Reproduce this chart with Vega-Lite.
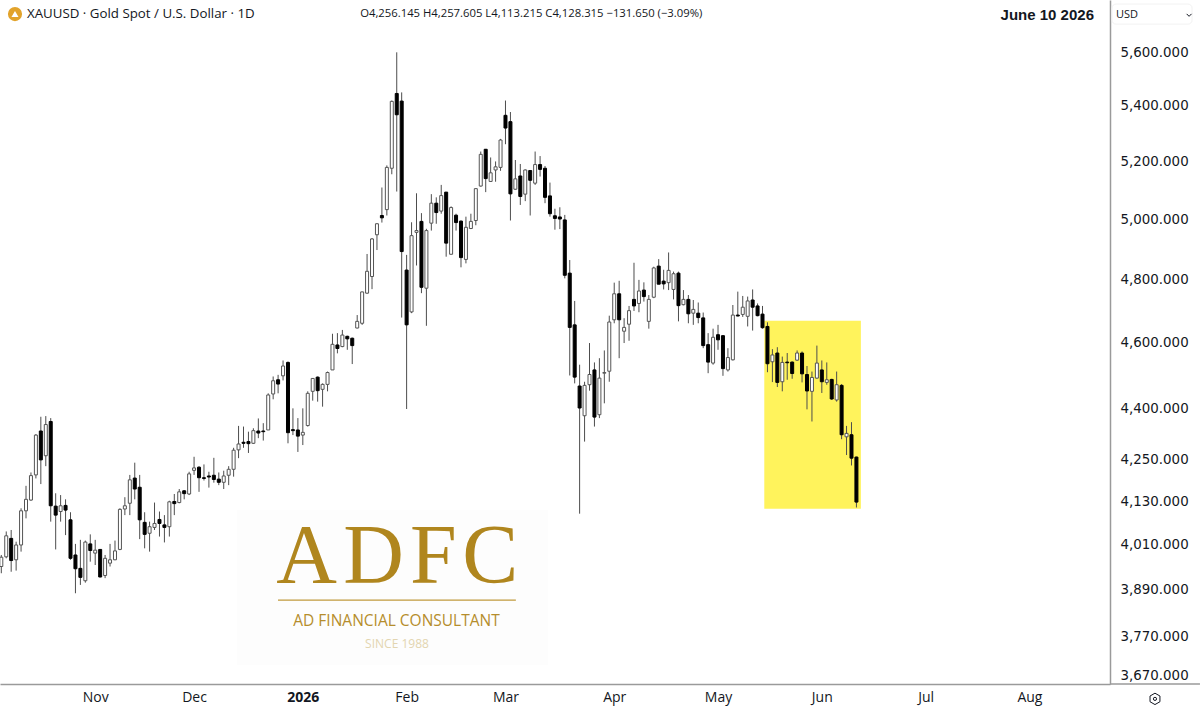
{
"$schema":"https://vega.github.io/schema/vega-lite/v6.json",
"autosize":{"type":"none"},
"padding":{"left":0,"top":0,"right":90,"bottom":29},
"width":1110,"height":684,
"background":"#ffffff",
"view":{"stroke":null},
"datasets":{"candles":[
{"bar":0,"open":3952,"high":3983,"low":3934,"close":3977},
{"bar":1,"open":3978,"high":4047,"low":3974,"close":4035},
{"bar":2,"open":4028,"high":4051,"low":3938,"close":3968},
{"bar":3,"open":3970,"high":4019,"low":3941,"close":4010},
{"bar":4,"open":4010,"high":4111,"low":3992,"close":4104},
{"bar":5,"open":4104,"high":4174,"low":4083,"close":4136},
{"bar":6,"open":4134,"high":4212,"low":4132,"close":4203},
{"bar":7,"open":4205,"high":4323,"low":4195,"close":4320},
{"bar":8,"open":4332,"high":4374,"low":4179,"close":4248},
{"bar":9,"open":4260,"high":4376,"low":4230,"close":4351},
{"bar":10,"open":4360,"high":4370,"low":4074,"close":4118},
{"bar":11,"open":4117,"high":4153,"low":3998,"close":4092},
{"bar":12,"open":4102,"high":4148,"low":4074,"close":4118},
{"bar":13,"open":4119,"high":4136,"low":4037,"close":4106},
{"bar":14,"open":4079,"high":4100,"low":3970,"close":3974},
{"bar":15,"open":3983,"high":4013,"low":3881,"close":3946},
{"bar":16,"open":3947,"high":4024,"low":3903,"close":3923},
{"bar":17,"open":3914,"high":4022,"low":3909,"close":4018},
{"bar":18,"open":4013,"high":4039,"low":3965,"close":3995},
{"bar":19,"open":3988,"high":4024,"low":3956,"close":3996},
{"bar":20,"open":3998,"high":3998,"low":3923,"close":3924},
{"bar":21,"open":3928,"high":3983,"low":3921,"close":3974},
{"bar":22,"open":3961,"high":4013,"low":3952,"close":3970},
{"bar":23,"open":3970,"high":4022,"low":3969,"close":3994},
{"bar":24,"open":3998,"high":4111,"low":3996,"close":4108},
{"bar":25,"open":4109,"high":4142,"low":4092,"close":4118},
{"bar":26,"open":4125,"high":4205,"low":4092,"close":4191},
{"bar":27,"open":4196,"high":4240,"low":4136,"close":4165},
{"bar":28,"open":4170,"high":4205,"low":4026,"close":4079},
{"bar":29,"open":4072,"high":4100,"low":4001,"close":4039},
{"bar":30,"open":4042,"high":4074,"low":3992,"close":4060},
{"bar":31,"open":4058,"high":4127,"low":4051,"close":4069},
{"bar":32,"open":4080,"high":4102,"low":4033,"close":4069},
{"bar":33,"open":4065,"high":4092,"low":4017,"close":4058},
{"bar":34,"open":4060,"high":4132,"low":4033,"close":4129},
{"bar":35,"open":4130,"high":4151,"low":4092,"close":4124},
{"bar":36,"open":4127,"high":4165,"low":4125,"close":4157},
{"bar":37,"open":4160,"high":4162,"low":4136,"close":4152},
{"bar":38,"open":4151,"high":4214,"low":4148,"close":4208},
{"bar":39,"open":4218,"high":4257,"low":4205,"close":4225},
{"bar":40,"open":4227,"high":4230,"low":4157,"close":4197},
{"bar":41,"open":4197,"high":4235,"low":4189,"close":4195},
{"bar":42,"open":4202,"high":4214,"low":4169,"close":4199},
{"bar":43,"open":4204,"high":4254,"low":4183,"close":4192},
{"bar":44,"open":4193,"high":4212,"low":4176,"close":4184},
{"bar":45,"open":4184,"high":4217,"low":4165,"close":4202},
{"bar":46,"open":4204,"high":4230,"low":4176,"close":4221},
{"bar":47,"open":4221,"high":4283,"low":4200,"close":4276},
{"bar":48,"open":4277,"high":4347,"low":4253,"close":4294},
{"bar":49,"open":4299,"high":4345,"low":4283,"close":4296},
{"bar":50,"open":4301,"high":4330,"low":4268,"close":4295},
{"bar":51,"open":4296,"high":4340,"low":4294,"close":4333},
{"bar":52,"open":4332,"high":4369,"low":4311,"close":4326},
{"bar":53,"open":4332,"high":4355,"low":4304,"close":4330},
{"bar":54,"open":4335,"high":4444,"low":4335,"close":4439},
{"bar":55,"open":4442,"high":4495,"low":4426,"close":4482},
{"bar":56,"open":4485,"high":4500,"low":4444,"close":4472},
{"bar":57,"open":4497,"high":4544,"low":4483,"close":4527},
{"bar":58,"open":4538,"high":4541,"low":4296,"close":4327},
{"bar":59,"open":4336,"high":4399,"low":4320,"close":4333},
{"bar":60,"open":4335,"high":4370,"low":4271,"close":4317},
{"bar":61,"open":4320,"high":4399,"low":4291,"close":4328},
{"bar":62,"open":4348,"high":4450,"low":4345,"close":4444},
{"bar":63,"open":4450,"high":4490,"low":4422,"close":4489},
{"bar":64,"open":4493,"high":4495,"low":4419,"close":4452},
{"bar":65,"open":4456,"high":4474,"low":4404,"close":4471},
{"bar":66,"open":4471,"high":4510,"low":4450,"close":4507},
{"bar":67,"open":4515,"high":4627,"low":4515,"close":4594},
{"bar":68,"open":4592,"high":4629,"low":4566,"close":4581},
{"bar":69,"open":4587,"high":4639,"low":4585,"close":4623},
{"bar":70,"open":4619,"high":4621,"low":4577,"close":4611},
{"bar":71,"open":4613,"high":4615,"low":4533,"close":4590},
{"bar":72,"open":4645,"high":4686,"low":4644,"close":4666},
{"bar":73,"open":4660,"high":4761,"low":4655,"close":4760},
{"bar":74,"open":4756,"high":4884,"low":4754,"close":4827},
{"bar":75,"open":4810,"high":4937,"low":4769,"close":4934},
{"bar":76,"open":4948,"high":4987,"low":4897,"close":4985},
{"bar":77,"open":5013,"high":5109,"low":4989,"close":5005},
{"bar":78,"open":5033,"high":5186,"low":5013,"close":5179},
{"bar":79,"open":5176,"high":5419,"low":5155,"close":5416},
{"bar":80,"open":5445,"high":5599,"low":5095,"close":5367},
{"bar":81,"open":5417,"high":5449,"low":4678,"close":4892},
{"bar":82,"open":4831,"high":4881,"low":4397,"close":4655},
{"bar":83,"open":4696,"high":4990,"low":4692,"close":4945},
{"bar":84,"open":4956,"high":5089,"low":4846,"close":4962},
{"bar":85,"open":4993,"high":5021,"low":4756,"close":4775},
{"bar":86,"open":4772,"high":4968,"low":4652,"close":4962},
{"bar":87,"open":4987,"high":5086,"low":4962,"close":5055},
{"bar":88,"open":5055,"high":5075,"low":4985,"close":5023},
{"bar":89,"open":5028,"high":5118,"low":5019,"close":5081},
{"bar":90,"open":5093,"high":5093,"low":4875,"close":4920},
{"bar":91,"open":4883,"high":5044,"low":4883,"close":5040},
{"bar":92,"open":5014,"high":5019,"low":4962,"close":4989},
{"bar":93,"open":4994,"high":4996,"low":4840,"close":4872},
{"bar":94,"open":4866,"high":5009,"low":4853,"close":4973},
{"bar":95,"open":4969,"high":5019,"low":4967,"close":4993},
{"bar":96,"open":4996,"high":5106,"low":4980,"close":5105},
{"bar":97,"open":5114,"high":5235,"low":5112,"close":5225},
{"bar":98,"open":5243,"high":5244,"low":5093,"close":5140},
{"bar":99,"open":5130,"high":5214,"low":5129,"close":5160},
{"bar":100,"open":5170,"high":5200,"low":5129,"close":5181},
{"bar":101,"open":5179,"high":5280,"low":5167,"close":5276},
{"bar":102,"open":5365,"high":5419,"low":5261,"close":5319},
{"bar":103,"open":5342,"high":5377,"low":4996,"close":5087},
{"bar":104,"open":5103,"high":5205,"low":5101,"close":5139},
{"bar":105,"open":5149,"high":5191,"low":5049,"close":5078},
{"bar":106,"open":5086,"high":5172,"low":5062,"close":5170},
{"bar":107,"open":5168,"high":5170,"low":5013,"close":5134},
{"bar":108,"open":5124,"high":5235,"low":5118,"close":5189},
{"bar":109,"open":5189,"high":5219,"low":5147,"close":5172},
{"bar":110,"open":5176,"high":5184,"low":5055,"close":5075},
{"bar":111,"open":5080,"high":5126,"low":5009,"close":5019},
{"bar":112,"open":5012,"high":5036,"low":4965,"close":5003},
{"bar":113,"open":5008,"high":5041,"low":4967,"close":5001},
{"bar":114,"open":4998,"high":5015,"low":4804,"close":4814},
{"bar":115,"open":4821,"high":4864,"low":4498,"close":4647},
{"bar":116,"open":4655,"high":4731,"low":4474,"close":4493},
{"bar":117,"open":4466,"high":4531,"low":4096,"close":4400},
{"bar":118,"open":4377,"high":4479,"low":4301,"close":4468},
{"bar":119,"open":4470,"high":4598,"low":4452,"close":4501},
{"bar":120,"open":4515,"high":4538,"low":4345,"close":4373},
{"bar":121,"open":4380,"high":4551,"low":4370,"close":4490},
{"bar":122,"open":4505,"high":4575,"low":4414,"close":4507},
{"bar":123,"open":4511,"high":4684,"low":4479,"close":4664},
{"bar":124,"open":4671,"high":4790,"low":4660,"close":4754},
{"bar":125,"open":4754,"high":4796,"low":4551,"close":4671},
{"bar":126,"open":4635,"high":4676,"low":4598,"close":4647},
{"bar":127,"open":4657,"high":4715,"low":4605,"close":4700},
{"bar":128,"open":4736,"high":4855,"low":4699,"close":4715},
{"bar":129,"open":4723,"high":4799,"low":4695,"close":4763},
{"bar":130,"open":4766,"high":4791,"low":4729,"close":4745},
{"bar":131,"open":4666,"high":4750,"low":4643,"close":4736},
{"bar":132,"open":4743,"high":4842,"low":4740,"close":4838},
{"bar":133,"open":4844,"high":4867,"low":4785,"close":4785},
{"bar":134,"open":4795,"high":4832,"low":4768,"close":4786},
{"bar":135,"open":4790,"high":4889,"low":4766,"close":4830},
{"bar":136,"open":4768,"high":4826,"low":4736,"close":4819},
{"bar":137,"open":4821,"high":4826,"low":4666,"close":4716},
{"bar":138,"open":4719,"high":4766,"low":4717,"close":4736},
{"bar":139,"open":4736,"high":4750,"low":4660,"close":4690},
{"bar":140,"open":4692,"high":4734,"low":4655,"close":4704},
{"bar":141,"open":4692,"high":4726,"low":4660,"close":4678},
{"bar":142,"open":4677,"high":4694,"low":4582,"close":4590},
{"bar":143,"open":4593,"high":4629,"low":4505,"close":4539},
{"bar":144,"open":4536,"high":4643,"low":4531,"close":4616},
{"bar":145,"open":4624,"high":4655,"low":4577,"close":4608},
{"bar":146,"open":4621,"high":4623,"low":4497,"close":4519},
{"bar":147,"open":4515,"high":4582,"low":4510,"close":4553},
{"bar":148,"open":4546,"high":4718,"low":4544,"close":4686},
{"bar":149,"open":4686,"high":4761,"low":4682,"close":4683},
{"bar":150,"open":4688,"high":4747,"low":4680,"close":4711},
{"bar":151,"open":4682,"high":4745,"low":4650,"close":4731},
{"bar":152,"open":4734,"high":4768,"low":4637,"close":4711},
{"bar":153,"open":4715,"high":4723,"low":4682,"close":4684},
{"bar":154,"open":4689,"high":4715,"low":4643,"close":4646},
{"bar":155,"open":4650,"high":4663,"low":4508,"close":4534},
{"bar":156,"open":4540,"high":4579,"low":4478,"close":4561},
{"bar":157,"open":4567,"high":4585,"low":4463,"close":4477},
{"bar":158,"open":4479,"high":4556,"low":4450,"close":4538},
{"bar":159,"open":4539,"high":4567,"low":4485,"close":4537},
{"bar":160,"open":4539,"high":4541,"low":4488,"close":4504},
{"bar":161,"open":4545,"high":4575,"low":4543,"close":4567},
{"bar":162,"open":4567,"high":4572,"low":4477,"close":4503},
{"bar":163,"open":4501,"high":4527,"low":4396,"close":4451},
{"bar":164,"open":4450,"high":4510,"low":4360,"close":4492},
{"bar":165,"open":4490,"high":4590,"low":4488,"close":4536},
{"bar":166,"open":4515,"high":4544,"low":4445,"close":4479},
{"bar":167,"open":4477,"high":4538,"low":4470,"close":4485},
{"bar":168,"open":4486,"high":4488,"low":4424,"close":4427},
{"bar":169,"open":4424,"high":4510,"low":4419,"close":4470},
{"bar":170,"open":4468,"high":4472,"low":4308,"close":4321},
{"bar":171,"open":4315,"high":4347,"low":4262,"close":4325},
{"bar":172,"open":4321,"high":4358,"low":4232,"close":4253},
{"bar":173,"open":4256.145,"high":4257.605,"low":4113.215,"close":4128.315}
]},
"layer":[
{"data":{"values":[{"bar":47.7,"bar2":110.6,"price":4106,"price2":3697}]},
 "mark":{"type":"rect","fill":"#fdfdfd"},
 "encoding":{
  "x":{"field":"bar","type":"quantitative","scale":{"domain":[-0.263,224.3],"nice":false,"zero":false,"padding":0},
   "axis":{"title":null,"orient":"bottom","grid":false,"ticks":false,"domain":true,"domainColor":"#9a9a9a","domainWidth":1.5,
    "values":[19,39,61,82,102,124,145,166,187,208],
    "labelExpr":"{19:'Nov',39:'Dec',61:'2026',82:'Feb',102:'Mar',124:'Apr',145:'May',166:'Jun',187:'Jul',208:'Aug'}[datum.value]",
    "labelFont":"Open Sans","labelFontSize":14,"labelColor":"#131722","labelPadding":6,"labelOverlap":false,"labelFlush":false,
    "labelFontWeight":{"condition":{"test":"datum.value==61","value":"bold"},"value":"normal"}}},
  "x2":{"field":"bar2"},
  "y":{"field":"price","type":"quantitative","scale":{"type":"log","domain":[3649.6,5801],"nice":false,"padding":0},
   "axis":{"title":null,"orient":"right","grid":false,"ticks":false,"domain":true,"domainColor":"#9a9a9a","domainWidth":1.5,
    "values":[3670,3770,3890,4010,4130,4250,4400,4600,4800,5000,5200,5400,5600],"format":",.3f",
    "labelFont":"DejaVu Sans","labelFontSize":13.4,"labelColor":"#131722","labelPadding":10,"labelOverlap":false,"labelBound":false,"labelFlush":false}},
  "y2":{"field":"price2"}}},
{"data":{"values":[{"bar":154.36,"bar2":173.9,"price":4668,"price2":4110}]},
 "mark":{"type":"rect","fill":"#fff35c"},
 "encoding":{"x":{"field":"bar","type":"quantitative"},"x2":{"field":"bar2"},"y":{"field":"price","type":"quantitative"},"y2":{"field":"price2"}}},
{"data":{"name":"candles"},
 "mark":{"type":"rule","color":"#4d4d4d","strokeWidth":1},
 "encoding":{"x":{"field":"bar","type":"quantitative"},"y":{"field":"low","type":"quantitative"},"y2":{"field":"high"}}},
{"data":{"name":"candles"},
 "mark":{"type":"bar","orient":"vertical","size":3,"strokeWidth":1},
 "encoding":{"x":{"field":"bar","type":"quantitative"},"y":{"field":"open","type":"quantitative"},"y2":{"field":"close"},
  "fill":{"condition":{"test":"datum.close>=datum.open","value":"#ffffff"},"value":"#000000"},
  "stroke":{"condition":{"test":"datum.close>=datum.open","value":"#555555"},"value":"#000000"}}},
{"data":{"values":[{"label":"A","bar":61.74,"price":3908},{"label":"D","bar":75.3,"price":3908},{"label":"F","bar":87.4,"price":3908},{"label":"C","bar":98.9,"price":3908}]},
 "mark":{"type":"text","font":"Liberation Serif","fontSize":84,"color":"#b0861e","align":"center","baseline":"alphabetic"},
 "encoding":{"x":{"field":"bar","type":"quantitative"},"y":{"field":"price","type":"quantitative"},"text":{"field":"label"}}},
{"data":{"values":[{"bar":55.98,"bar2":104.1,"price":3863}]},
 "mark":{"type":"rule","color":"#c09a3c","strokeWidth":1.2},
 "encoding":{"x":{"field":"bar","type":"quantitative"},"x2":{"field":"bar2"},"y":{"field":"price","type":"quantitative"}}},
{"data":{"values":[{"label":"AD FINANCIAL CONSULTANT","bar":79.95,"price":3796}]},
 "mark":{"type":"text","font":"Open Sans","fontSize":15.5,"color":"#b58d2c","align":"center","baseline":"alphabetic"},
 "encoding":{"x":{"field":"bar","type":"quantitative"},"y":{"field":"price","type":"quantitative"},"text":{"field":"label"}}},
{"data":{"values":[{"label":"SINCE 1988","bar":80.05,"price":3740}]},
 "mark":{"type":"text","font":"Open Sans","fontSize":12,"color":"#e3d5b0","align":"center","baseline":"alphabetic"},
 "encoding":{"x":{"field":"bar","type":"quantitative"},"y":{"field":"price","type":"quantitative"},"text":{"field":"label"}}},
{"data":{"values":[{"bar":2.77,"price":5746}]},
 "mark":{"type":"point","filled":true,"shape":"circle","size":200,"color":"#e2a32b","opacity":1},
 "encoding":{"x":{"field":"bar","type":"quantitative"},"y":{"field":"price","type":"quantitative"}}},
{"data":{"values":[{"bar":2.77,"price":5746}]},
 "mark":{"type":"point","filled":true,"shape":"triangle-up","size":50,"color":"#ffffff","opacity":1},
 "encoding":{"x":{"field":"bar","type":"quantitative"},"y":{"field":"price","type":"quantitative"}}},
{"data":{"values":[{"label":"XAUUSD · Gold Spot / U.S. Dollar · 1D","bar":5.2,"price":5746}]},
 "mark":{"type":"text","font":"Open Sans","fontSize":13.3,"color":"#131722","align":"left","baseline":"middle"},
 "encoding":{"x":{"field":"bar","type":"quantitative"},"y":{"field":"price","type":"quantitative"},"text":{"field":"label"}}},
{"data":{"values":[{"label":"O4,256.145  H4,257.605  L4,113.215  C4,128.315  −131.650 (−3.09%)","bar":72.6,"price":5746}]},
 "mark":{"type":"text","font":"Open Sans","fontSize":11.3,"color":"#131722","align":"left","baseline":"middle"},
 "encoding":{"x":{"field":"bar","type":"quantitative"},"y":{"field":"price","type":"quantitative"},"text":{"field":"label"}}},
{"data":{"values":[{"label":"June 10 2026","bar":221.06,"price":5742}]},
 "mark":{"type":"text","font":"Liberation Sans","fontSize":15,"fontWeight":"bold","color":"#131722","align":"right","baseline":"middle"},
 "encoding":{"x":{"field":"bar","type":"quantitative"},"y":{"field":"price","type":"quantitative"},"text":{"field":"label"}}},
{"data":{"values":[{"bar":224.7,"bar2":240.9,"price":5785,"price2":5707}]},
 "mark":{"type":"rect","fill":null,"stroke":"#f2f2f2","strokeWidth":1,"cornerRadius":4},
 "encoding":{"x":{"field":"bar","type":"quantitative"},"x2":{"field":"bar2"},"y":{"field":"price","type":"quantitative"},"y2":{"field":"price2"}}},
{"data":{"values":[{"label":"USD","bar":225.5,"price":5742}]},
 "mark":{"type":"text","font":"Open Sans","fontSize":11,"color":"#131722","align":"left","baseline":"middle"},
 "encoding":{"x":{"field":"bar","type":"quantitative"},"y":{"field":"price","type":"quantitative"},"text":{"field":"label"}}},
{"data":{"values":[{"bar":240.3,"price":5742}]},
 "mark":{"type":"point","filled":false,"shape":"M-1,-0.5L0,0.5L1,-0.5","size":24,"color":"#131722","strokeWidth":1,"opacity":1},
 "encoding":{"x":{"field":"bar","type":"quantitative"},"y":{"field":"price","type":"quantitative"}}},
{"data":{"values":[{"bar":224.3,"bar2":242.5,"price":3649.6}]},
 "mark":{"type":"rule","color":"#9a9a9a","strokeWidth":1.5},
 "encoding":{"x":{"field":"bar","type":"quantitative"},"x2":{"field":"bar2"},"y":{"field":"price","type":"quantitative"}}},
{"data":{"values":[{"bar":233.4,"price":3613}]},
 "mark":{"type":"point","filled":false,"shape":"M0,-1L0.87,-0.5L0.87,0.5L0,1L-0.87,0.5L-0.87,-0.5Z","size":130,"color":"#131722","strokeWidth":1,"opacity":1},
 "encoding":{"x":{"field":"bar","type":"quantitative"},"y":{"field":"price","type":"quantitative"}}},
{"data":{"values":[{"bar":233.4,"price":3613}]},
 "mark":{"type":"point","filled":false,"shape":"circle","size":10,"color":"#131722","strokeWidth":1,"opacity":1},
 "encoding":{"x":{"field":"bar","type":"quantitative"},"y":{"field":"price","type":"quantitative"}}}
]
}
